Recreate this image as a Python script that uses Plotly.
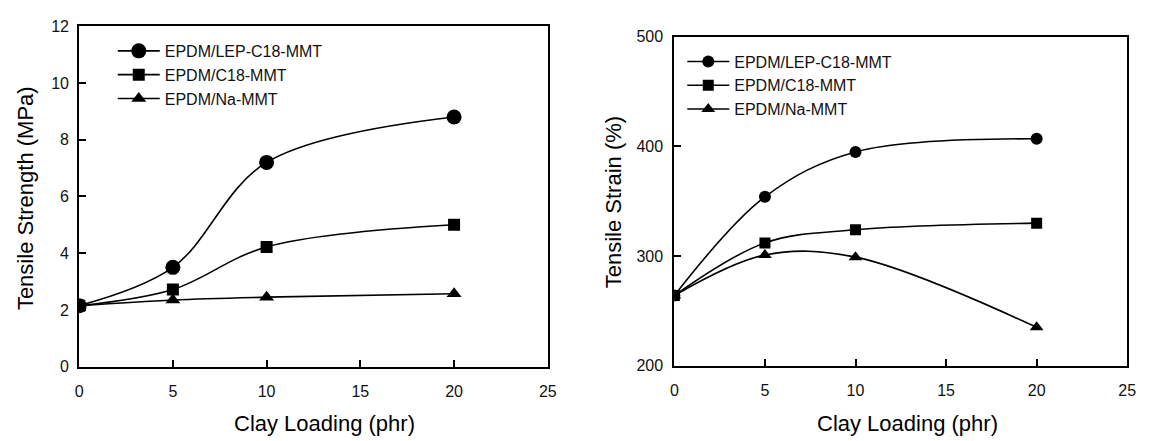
import plotly.graph_objects as go

# Clay loading (phr)
loading = [0, 5, 10, 20]

# Tensile strength (MPa)
ts_lep_c18 = [2.15, 3.5, 7.2, 8.8]
ts_c18 = [2.15, 2.72, 4.22, 5.0]
ts_na = [2.15, 2.35, 2.45, 2.57]

# Tensile strain (%)
st_lep_c18 = [264, 354, 395, 407]
st_c18 = [264, 312, 324, 330]
st_na = [264, 301, 299, 235]

names = ["EPDM/LEP-C18-MMT", "EPDM/C18-MMT", "EPDM/Na-MMT"]
symbols = ["circle", "square", "triangle-up"]

x_ticks = [0, 5, 10, 15, 20, 25]
ts_ticks = [0, 2, 4, 6, 8, 10, 12]
st_ticks = [200, 300, 400, 500]

W, H = 1155, 441
FONT = "Liberation Sans, Arial, sans-serif"


def px_x(p):
    return p / W


def px_y(p):
    return 1 - p / H


fig = go.Figure()

left_sizes = [15, 12, 13]
right_sizes = [12, 11, 12]
# draw order puts the square on top at the shared starting point
order = [0, 2, 1]
for series, sizes, xa, ya, leg in [
    ([ts_lep_c18, ts_c18, ts_na], left_sizes, "x", "y", "legend"),
    ([st_lep_c18, st_c18, st_na], right_sizes, "x2", "y2", "legend2"),
]:
    for i in order:
        fig.add_trace(go.Scatter(
            x=loading, y=series[i], name=names[i],
            mode="lines+markers",
            line=dict(color="black", width=1.6, shape="spline", smoothing=1.0),
            marker=dict(symbol=symbols[i], size=sizes[i], color="black"),
            xaxis=xa, yaxis=ya, legend=leg, legendrank=i + 1,
        ))

axis_common = dict(
    showline=True, linecolor="black", linewidth=2, mirror=True,
    showgrid=False, zeroline=False,
    ticks="inside", ticklen=7, tickwidth=1.5, tickcolor="black",
    tickfont=dict(family=FONT, size=16, color="#111"),
    fixedrange=True,
)

legend_common = dict(
    xanchor="left", yanchor="top", itemwidth=42,
    font=dict(family=FONT, size=16, color="#111"),
    bgcolor="rgba(0,0,0,0)", borderwidth=0, tracegroupgap=0,
)

fig.update_layout(
    width=W, height=H, autosize=False,
    margin=dict(l=0, r=0, t=0, b=0),
    paper_bgcolor="white", plot_bgcolor="white",
    font=dict(family=FONT, color="black"),
    xaxis=dict(domain=[px_x(76), px_x(550)], range=[0, 25], tickvals=x_ticks,
               anchor="y", ticklabelstandoff=9, **axis_common),
    yaxis=dict(domain=[px_y(373), px_y(19)], range=[0, 12], tickvals=ts_ticks,
               anchor="x", ticklabelstandoff=5, **axis_common),
    xaxis2=dict(domain=[px_x(678), px_x(1136)], range=[0, 25], tickvals=x_ticks,
                anchor="y2", ticklabelstandoff=9, **axis_common),
    yaxis2=dict(domain=[px_y(372), px_y(30)], range=[200, 500], tickvals=st_ticks,
                anchor="x2", ticklabelstandoff=6, **axis_common),
    legend=dict(x=px_x(110), y=px_y(27), **legend_common),
    legend2=dict(x=px_x(686), y=px_y(38), **legend_common),
    showlegend=True,
)

title_font = dict(family=FONT, size=22, color="black")
titles = [
    ("Clay Loading (phr)", 324, 432, 0),
    ("Clay Loading (phr)", 914, 432, 0),
    ("Tensile Strength (MPa)", 22, 198, -90),
    ("Tensile Strain (%)", 616, 202, -90),
]
for text, cx, cy, ang in titles:
    fig.add_annotation(text=text, x=px_x(cx), y=px_y(cy), xref="paper", yref="paper",
                       xanchor="center", yanchor="middle", showarrow=False,
                       textangle=ang, font=title_font)

fig.write_html("out.html")
